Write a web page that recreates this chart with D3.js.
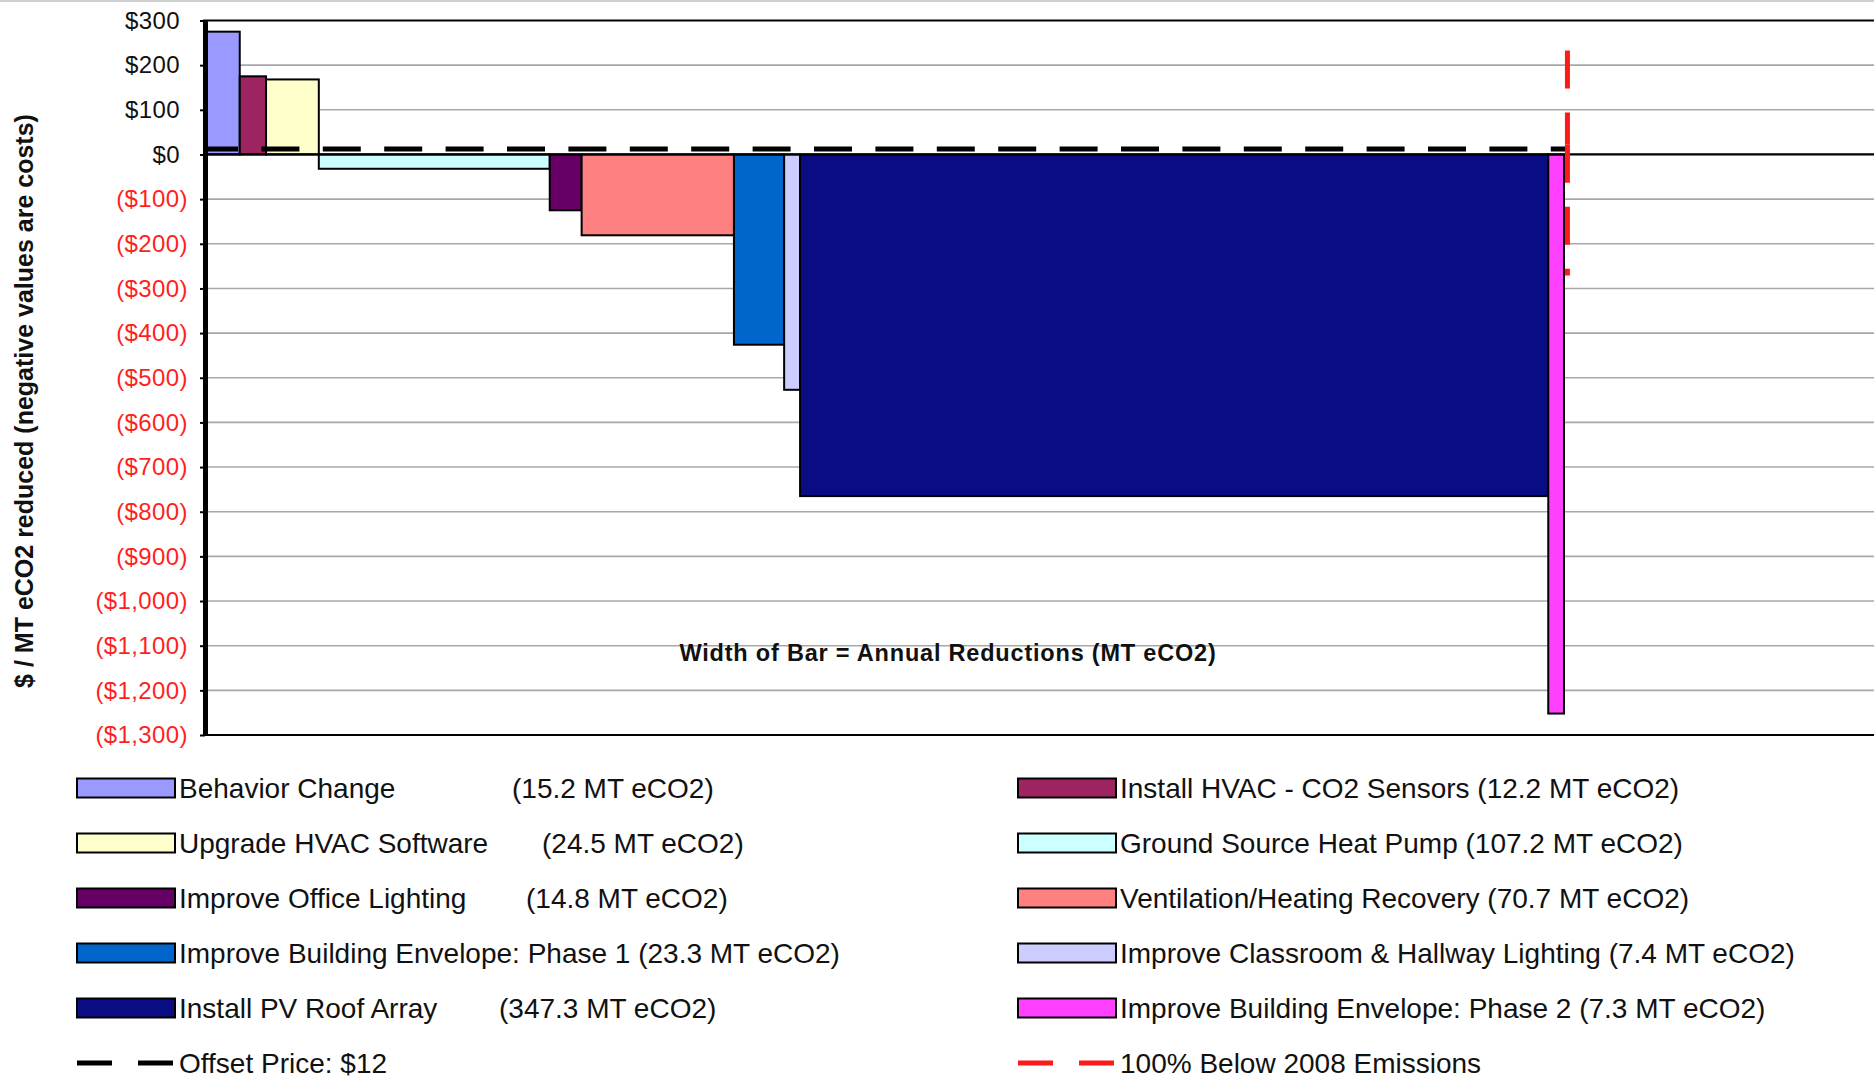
<!DOCTYPE html>
<html>
<head>
<meta charset="utf-8">
<script src="https://cdn.jsdelivr.net/npm/d3@7"></script>
<style>
  html, body { margin: 0; padding: 0; background: #ffffff; }
  svg { display: block; font-family: "Liberation Sans", Arial, sans-serif; }
</style>
</head>
<body>
<svg id="chart" width="1874" height="1081"></svg>
<script>
// ---------------- data ----------------
const categories = [
  "Behavior Change",
  "Install HVAC - CO2 Sensors",
  "Upgrade HVAC Software",
  "Ground Source Heat Pump",
  "Improve Office Lighting",
  "Ventilation/Heating Recovery",
  "Improve Building Envelope: Phase 1",
  "Improve Classroom & Hallway Lighting",
  "Install PV Roof Array",
  "Improve Building Envelope: Phase 2"
];
// bar width = annual reductions (MT eCO2)
const reductions = [15.2, 12.2, 24.5, 107.2, 14.8, 70.7, 23.3, 7.4, 347.3, 7.3];
// bar height = $ / MT eCO2 reduced
const costPerMT = [275, 175, 168, -32, -125, -181, -426, -527, -765, -1252];

const yTicks = [300, 200, 100, 0, -100, -200, -300, -400, -500, -600, -700, -800, -900, -1000, -1100, -1200, -1300];
const yTickLabels = ["$300", "$200", "$100", "$0", "($100)", "($200)", "($300)", "($400)", "($500)", "($600)",
  "($700)", "($800)", "($900)", "($1,000)", "($1,100)", "($1,200)", "($1,300)"];

const offsetPrice = 12;
const offsetLabel = "Offset Price: $12";
const targetReduction = 631.5;          // x position of the 100% line
const targetY = [233, 22, -271];        // vertical extent of the red dashed series
const targetLabel = "100% Below 2008 Emissions";

const yAxisTitle = "$ / MT eCO2 reduced (negative values are costs)";
const noteText = "Width of Bar = Annual Reductions (MT eCO2)";

// ---------------- styles / layout (not data) ----------------
const palette = ["#9999ff", "#9c2460", "#ffffcc", "#ccffff", "#660066",
                 "#ff8080", "#0066cc", "#ccccff", "#0a0c84", "#ff40ff"];
// legend: x of the separately placed amount text (null = inline)
const amountX = [512, null, 542, null, 526, null, null, null, 499, null];

// ---------------- drawing ----------------
const svg = d3.select("#chart");
const W = 1874, H = 1081;

const x = d3.scaleLinear().domain([0, 780]).range([207, 207 + 780 * 2.1543]);
const y = d3.scaleLinear().domain([300, -1300]).range([20.5, 735]);

const starts = [0, ...d3.cumsum(reductions)].slice(0, reductions.length);
const bars = categories.map((c, i) => ({
  name: c, start: starts[i], w: reductions[i], v: costPerMT[i], color: palette[i]
}));

// thin grey line at very top of the picture
svg.append("line").attr("x1", 0).attr("x2", W).attr("y1", 1).attr("y2", 1)
  .attr("stroke", "#cfcfcf").attr("stroke-width", 2);

// gridlines
svg.append("g").selectAll("line")
  .data(yTicks.filter(v => v !== 300 && v !== 0 && v !== -1300))
  .join("line")
  .attr("x1", 207).attr("x2", W)
  .attr("y1", d => y(d)).attr("y2", d => y(d))
  .attr("stroke", "#a8a8a8").attr("stroke-width", 1.6);

// bars
svg.append("g").selectAll("rect")
  .data(bars)
  .join("rect")
  .attr("x", d => x(d.start))
  .attr("width", d => x(d.start + d.w) - x(d.start))
  .attr("y", d => Math.min(y(0), y(d.v)))
  .attr("height", d => Math.abs(y(d.v) - y(0)))
  .attr("fill", d => d.color)
  .attr("stroke", "#000").attr("stroke-width", 2);

// frame: top, zero, bottom
[300, 0, -1300].forEach(v => {
  svg.append("line").attr("x1", 203).attr("x2", W)
    .attr("y1", y(v)).attr("y2", y(v))
    .attr("stroke", "#000").attr("stroke-width", 2.2);
});

// offset price dashed line
svg.append("line")
  .attr("x1", x(0)).attr("x2", x(targetReduction) - 2)
  .attr("y1", y(offsetPrice)).attr("y2", y(offsetPrice))
  .attr("stroke", "#000").attr("stroke-width", 5)
  .attr("stroke-dasharray", "38 23.4").attr("stroke-dashoffset", 7);

// 100% below 2008 red dashed series (two segments, pattern restarts at vertex)
for (let i = 0; i < targetY.length - 1; i++) {
  svg.append("line")
    .attr("x1", x(targetReduction)).attr("x2", x(targetReduction))
    .attr("y1", y(targetY[i])).attr("y2", y(targetY[i + 1]))
    .attr("stroke", "#ff1a1a").attr("stroke-width", 5)
    .attr("stroke-dasharray", "38 24");
}

// y axis
const yAxis = d3.axisLeft(y)
  .tickValues(yTicks)
  .tickFormat((d, i) => yTickLabels[i])
  .tickSize(5).tickSizeOuter(0).tickPadding(12);
const gAxis = svg.append("g").attr("transform", "translate(205,0)").call(yAxis);
gAxis.select(".domain").attr("stroke", "#000").attr("stroke-width", 5);
gAxis.selectAll(".tick line").attr("stroke", "#000").attr("stroke-width", 2);
gAxis.selectAll(".tick text")
  .attr("font-family", "Liberation Sans, Arial, sans-serif")
  .attr("font-size", 24)
  .attr("letter-spacing", 0.4)
  .attr("fill", d => d < 0 ? "#ff1f1f" : "#111")
  .attr("dx", d => d < 0 ? 0 : -8);

// y axis title
svg.append("text")
  .attr("transform", "translate(24,401) rotate(-90)")
  .attr("text-anchor", "middle").attr("dominant-baseline", "central")
  .attr("font-size", 25).attr("font-weight", "bold").attr("fill", "#111")
  .text(yAxisTitle);

// note
svg.append("text")
  .attr("x", 948).attr("y", 661)
  .attr("text-anchor", "middle")
  .attr("font-size", 23.5).attr("font-weight", "bold").attr("letter-spacing", 0.8)
  .attr("fill", "#111")
  .text(noteText);

// legend
const legItems = bars.map((b, i) => ({
  type: "rect", color: b.color, name: b.name,
  amount: "(" + reductions[i] + " MT eCO2)", ax: amountX[i]
}));
legItems.push({ type: "line", color: "#000", name: offsetLabel });
legItems.push({ type: "line", color: "#ff1a1a", name: targetLabel });

const colX = [77, 1018];
const rowY0 = 788, rowStep = 55;
const lg = svg.append("g").attr("font-size", 28).attr("fill", "#111");
legItems.forEach((it, i) => {
  const col = i % 2, row = Math.floor(i / 2);
  const cx = colX[col], cy = rowY0 + row * rowStep;
  if (it.type === "rect") {
    lg.append("rect").attr("x", cx).attr("y", cy - 9.5)
      .attr("width", 98).attr("height", 19)
      .attr("fill", it.color).attr("stroke", "#000").attr("stroke-width", 2);
  } else {
    lg.append("line").attr("x1", cx).attr("x2", cx + 98)
      .attr("y1", cy).attr("y2", cy)
      .attr("stroke", it.color).attr("stroke-width", 5)
      .attr("stroke-dasharray", "35 26");
  }
  const tx = cx + 102, ty = cy + 10;
  if (it.type === "rect" && it.ax != null) {
    lg.append("text").attr("x", tx).attr("y", ty).text(it.name);
    lg.append("text").attr("x", it.ax).attr("y", ty).text(it.amount);
  } else if (it.type === "rect") {
    lg.append("text").attr("x", tx).attr("y", ty).text(it.name + " " + it.amount);
  } else {
    lg.append("text").attr("x", tx).attr("y", ty).text(it.name);
  }
});
</script>
</body>
</html>
